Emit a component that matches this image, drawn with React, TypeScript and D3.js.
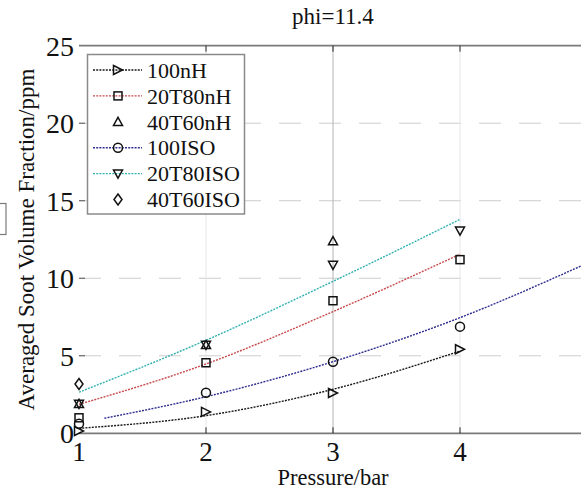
import * as d3 from "d3";
import React from "react";

// measured points
const pressures = [1, 2, 3, 4];
const nH100 = [0.15, 1.38, 2.6, 5.42];
const t20nH80 = [1.0, 4.55, 8.55, 11.2];
const t40nH60 = [1.9, 5.7, 12.4];
const iso100 = [0.62, 2.62, 4.62, 6.88];
const t20iso80 = [1.9, 5.7, 10.86, 13.07];
const t40iso60 = [3.18];

// fitted curves
const fitX = [1, 2, 3, 4];
const fitNH100 = [0.32, 1.14, 2.84, 5.3];
const fitT20nH80 = [1.87, 4.47, 7.85, 11.55];
const fitT20iso80 = [2.65, 6.0, 9.8, 13.8];
const fitIsoX = [1.2, 2, 3, 4, 4.95];
const fitIso100 = [0.97, 2.36, 4.62, 7.46, 10.78];

const xTicks = [1, 2, 3, 4];
const yTicks = [0, 5, 10, 15, 20, 25];

const W = 581;
const H = 492;
const FONT = "'Liberation Serif', 'Times New Roman', serif";

const x = d3.scaleLinear().domain([1, 5]).range([79, 587]);
const y = d3.scaleLinear().domain([0, 25]).range([433.3, 45.7]);

type Shape = "right" | "square" | "up" | "circle" | "down" | "diamond";

function Marker({ shape, cx, cy }: { shape: Shape; cx: number; cy: number }) {
  const s = 4.5;
  const common = { fill: "none", stroke: "#111", strokeWidth: 1.5 };
  if (shape === "square")
    return <rect x={cx - s + 0.5} y={cy - s + 0.5} width={2 * s - 1} height={2 * s - 1} {...common} />;
  if (shape === "circle") return <circle cx={cx} cy={cy} r={s} {...common} />;
  let pts: number[][] = [];
  if (shape === "right") pts = [[cx - s, cy - s], [cx + s, cy], [cx - s, cy + s]];
  if (shape === "up") pts = [[cx, cy - s], [cx + s, cy + s * 0.8], [cx - s, cy + s * 0.8]];
  if (shape === "down") pts = [[cx, cy + s], [cx + s, cy - s * 0.8], [cx - s, cy - s * 0.8]];
  if (shape === "diamond") pts = [[cx, cy - s - 1], [cx + s - 0.5, cy], [cx, cy + s + 1], [cx - s + 0.5, cy]];
  return <polygon points={pts.map((p) => p.join(",")).join(" ")} {...common} />;
}

const series = [
  { name: "100nH", shape: "right" as Shape, vals: nH100, color: "#1a1a1a", fx: fitX, fy: fitNH100 },
  { name: "20T80nH", shape: "square" as Shape, vals: t20nH80, color: "#c84a4c", fx: fitX, fy: fitT20nH80 },
  { name: "40T60nH", shape: "up" as Shape, vals: t40nH60, color: null, fx: [], fy: [] },
  { name: "100ISO", shape: "circle" as Shape, vals: iso100, color: "#2e2e90", fx: fitIsoX, fy: fitIso100 },
  { name: "20T80ISO", shape: "down" as Shape, vals: t20iso80, color: "#34b2b2", fx: fitX, fy: fitT20iso80 },
  { name: "40T60ISO", shape: "diamond" as Shape, vals: t40iso60, color: null, fx: [], fy: [] },
];

export default function App() {
  const line = d3
    .line<[number, number]>()
    .x((d) => x(d[0]))
    .y((d) => y(d[1]))
    .curve(d3.curveMonotoneX);

  return (
    <div style={{ position: "absolute", left: 0, top: 0 }}>
      <svg width={W} height={H} style={{ display: "block", background: "#fff" }} fontFamily={FONT}>
        <defs>
          <clipPath id="plot">
            <rect x={x(1)} y={y(25)} width={x(5) - x(1)} height={y(0) - y(25)} />
          </clipPath>
        </defs>

        {/* grid */}
        {yTicks.slice(1, -1).map((t) => (
          <line key={"gy" + t} x1={x(1)} x2={x(5)} y1={y(t)} y2={y(t)} stroke="#cdcdcd" strokeDasharray="22 18" strokeWidth={1} />
        ))}
        {xTicks.slice(1).map((t) => (
          <line key={"gx" + t} x1={x(t)} x2={x(t)} y1={y(0)} y2={y(25)} stroke={t === 3 ? "#b4b4b4" : "#e6e6e6"} strokeWidth={1} />
        ))}

        {/* axes */}
        <line x1={x(1)} x2={W} y1={y(0)} y2={y(0)} stroke="#7a7a7a" strokeWidth={1.8} />
        <line x1={x(1)} x2={W} y1={y(25)} y2={y(25)} stroke="#7a7a7a" strokeWidth={1.8} />
        {xTicks.slice(1).map((t) => (
          <g key={"tx" + t}>
            <line x1={x(t)} x2={x(t)} y1={y(0)} y2={y(0) - 6} stroke="#222" strokeWidth={1} />
            <line x1={x(t)} x2={x(t)} y1={y(25)} y2={y(25) + 6} stroke="#222" strokeWidth={1} />
          </g>
        ))}
        {yTicks.slice(1, -1).map((t) => (
          <line key={"ty" + t} x1={x(1)} x2={x(1) + 6} y1={y(t)} y2={y(t)} stroke="#555" strokeWidth={1} />
        ))}

        {/* tick labels */}
        {xTicks.map((t) => (
          <text key={"lx" + t} x={x(t)} y={461} fontSize={27} textAnchor="middle" fill="#111">
            {t}
          </text>
        ))}
        {yTicks.map((t) => (
          <text key={"ly" + t} x={74} y={y(t)} dy="0.35em" fontSize={28} textAnchor="end" fill="#111">
            {t}
          </text>
        ))}

        {/* titles */}
        <text x={x(3)} y={24} fontSize={23} textAnchor="middle" fill="#111">
          phi=11.4
        </text>
        <text x={x(3)} y={485} fontSize={22.5} textAnchor="middle" fill="#111">
          Pressure/bar
        </text>
        <text transform={`translate(34,${(y(0) + y(25)) / 2}) rotate(-90)`} fontSize={23} textAnchor="middle" fill="#111">
          Averaged Soot Volume Fraction/ppm
        </text>

        {/* fit curves */}
        <g clipPath="url(#plot)">
          {series
            .filter((s) => s.color)
            .map((s) => (
              <path
                key={"fit" + s.name}
                d={line(s.fx.map((v, i) => [v, s.fy[i]] as [number, number])) || ""}
                fill="none"
                stroke={s.color as string}
                strokeWidth={1.4}
                strokeDasharray="2 1.2"
              />
            ))}
        </g>

        {/* markers */}
        {series.map((s) =>
          s.vals.map((v, i) => <Marker key={s.name + i} shape={s.shape} cx={x(pressures[i])} cy={y(v)} />)
        )}

        {/* legend */}
        <rect x={87.5} y={54.5} width={157} height={159.5} fill="#fff" stroke="#8a8a8a" strokeWidth={1.5} />
        {series.map((s, i) => {
          const ry = 70 + i * 25.9;
          return (
            <g key={"lg" + s.name}>
              {s.color && (
                <line x1={93} x2={142} y1={ry} y2={ry} stroke={s.color} strokeWidth={1.4} strokeDasharray="2 1.2" />
              )}
              <Marker shape={s.shape} cx={118} cy={ry} />
              <text x={147} y={ry} dy="0.35em" fontSize={22} fill="#111">
                {s.name}
              </text>
            </g>
          );
        })}

        {/* stray box at the left edge */}
        <rect x={-10} y={203.5} width={16} height={31} fill="#fff" stroke="#7a7a7a" strokeWidth={1.2} />
      </svg>
    </div>
  );
}
